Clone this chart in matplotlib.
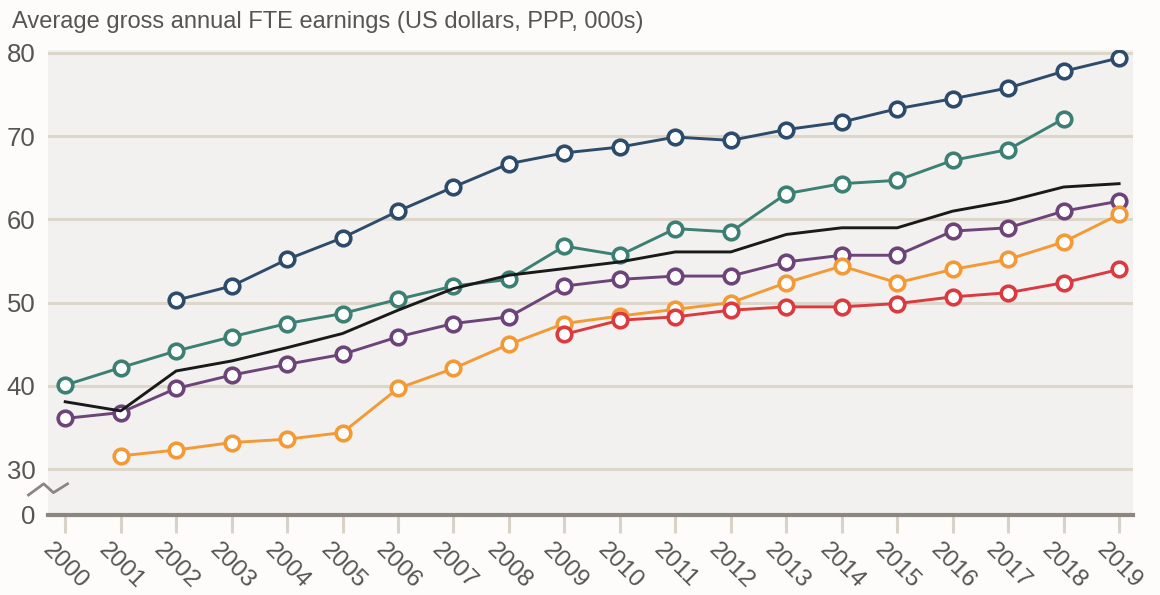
import matplotlib
matplotlib.use('Agg')
import matplotlib.pyplot as plt
import matplotlib.transforms as mtransforms
import numpy as np

nan = np.nan

years = list(range(2000, 2020))
year_labels = [str(y) for y in years]

blue_vals = [nan, nan, 50.3, 52.0, 55.2, 57.8, 61.0, 63.9, 66.7, 68.0,
             68.7, 69.9, 69.5, 70.8, 71.7, 73.3, 74.5, 75.8, 77.8, 79.4]
teal_vals = [40.1, 42.2, 44.2, 45.9, 47.5, 48.7, 50.4, 52.0, 52.8, 56.8,
             55.7, 58.9, 58.5, 63.1, 64.3, 64.7, 67.1, 68.4, 72.1, nan]
black_vals = [38.1, 37.0, 41.8, 43.0, 44.6, 46.3, 49.1, 51.7, 53.3, 54.1,
              54.9, 56.1, 56.1, 58.2, 59.0, 59.0, 61.0, 62.2, 63.9, 64.3]
purple_vals = [36.1, 36.8, 39.7, 41.3, 42.6, 43.8, 45.9, 47.5, 48.3, 52.0,
               52.8, 53.2, 53.2, 54.9, 55.7, 55.7, 58.6, 59.0, 61.0, 62.2]
orange_vals = [nan, 31.6, 32.3, 33.2, 33.6, 34.4, 39.7, 42.1, 45.0, 47.5,
               48.4, 49.2, 50.0, 52.4, 54.4, 52.4, 54.0, 55.2, 57.3, 60.6]
red_vals = [nan, nan, nan, nan, nan, nan, nan, nan, nan, 46.2,
            47.9, 48.3, 49.1, 49.5, 49.5, 49.9, 50.7, 51.2, 52.4, 54.0]

# broken axis: real ticks 30..80, plus a "0" at the bottom of the frame
y_bottom = 24.5
ytick_vals = [y_bottom, 30, 40, 50, 60, 70, 80]
ytick_labels = ['0', '30', '40', '50', '60', '70', '80']

COL = {
    'blue': '#2D4B6A',
    'teal': '#3C7F73',
    'black': '#1A1A1A',
    'purple': '#6C4479',
    'orange': '#F39A36',
    'red': '#DA3A40',
    'grid': '#DDD6CA',
    'axis': '#8C8580',
    'tick': '#D8D2C8',
    'text': '#555555',
    'plot_bg': '#F2F1EF',
    'fig_bg': '#FDFCFA',
}

plt.rcParams['font.family'] = ['Liberation Sans', 'DejaVu Sans']

fig = plt.figure(figsize=(11.6, 5.95), dpi=100, facecolor=COL['fig_bg'])
ax = fig.add_axes([0.0414, 0.1345, 0.9353, 0.7815])
ax.set_facecolor(COL['plot_bg'])

marker_kw = dict(marker='o', markersize=10.5, markerfacecolor='white',
                 markeredgewidth=2.6, linewidth=2.1)

ax.plot(years, purple_vals, color=COL['purple'], markeredgecolor=COL['purple'], zorder=3, **marker_kw)
ax.plot(years, teal_vals, color=COL['teal'], markeredgecolor=COL['teal'], zorder=3, **marker_kw)
ax.plot(years, blue_vals, color=COL['blue'], markeredgecolor=COL['blue'], zorder=3, **marker_kw)
ax.plot(years, black_vals, color=COL['black'], linewidth=2.1, zorder=4)
ax.plot(years, orange_vals, color=COL['orange'], markeredgecolor=COL['orange'], zorder=5, **marker_kw)
ax.plot(years, red_vals, color=COL['red'], markeredgecolor=COL['red'], zorder=6, **marker_kw)

ax.set_xlim(1999.69, 2019.25)
ax.set_ylim(y_bottom, 80.36)

# grid lines only for the real part of the axis
for v in ytick_vals[1:]:
    ax.axhline(v, color=COL['grid'], linewidth=2.2, zorder=1)

ax.set_yticks(ytick_vals)
ax.set_yticklabels(ytick_labels)
ax.tick_params(axis='y', length=0, pad=9, labelsize=18.5, labelcolor=COL['text'])

ax.set_xticks(years)
ax.set_xticklabels(year_labels, rotation=-45, ha='left', va='top', rotation_mode='anchor')
ax.tick_params(axis='x', length=13, width=2.2, color=COL['tick'], pad=4,
               labelsize=17.5, labelcolor=COL['text'])
offset = mtransforms.ScaledTranslation(-11 / 100, 0, fig.dpi_scale_trans)
for lbl in ax.get_xticklabels():
    lbl.set_transform(lbl.get_transform() + offset)

for side in ['top', 'right', 'left']:
    ax.spines[side].set_visible(False)
ax.spines['bottom'].set_color(COL['axis'])
ax.spines['bottom'].set_linewidth(3)

# axis break zig-zag
zz_x = [-0.018, -0.004, 0.005, 0.018]
zz_y = [0.043, 0.067, 0.048, 0.067]
ax.plot(zz_x, zz_y, transform=ax.transAxes, color=COL['axis'],
        linewidth=2, clip_on=False, zorder=7)

fig.text(0.010, 0.963, 'Average gross annual FTE earnings (US dollars, PPP, 000s)',
         fontsize=17, color=COL['text'], ha='left', va='center')

fig.savefig('out.png', dpi=100, facecolor=COL['fig_bg'])
